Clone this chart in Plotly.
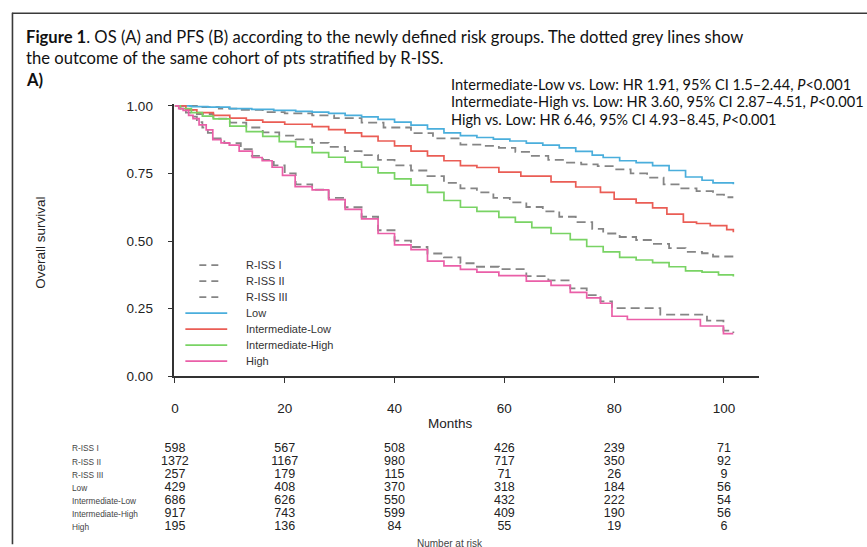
import plotly.graph_objects as go

W, H = 867, 547

# ---------------- data ----------------
series_names = ["R-ISS I", "R-ISS II", "R-ISS III", "Low",
                "Intermediate-Low", "Intermediate-High", "High"]

riss1_months = [0, 4, 8, 12, 16, 20, 25, 29, 34, 38, 43, 47, 52, 56, 59, 62, 65, 68, 71, 74,
                77, 80, 83, 86, 89, 92, 95, 98, 100, 101.7]
riss1_surv = [1.0, 0.995, 0.99, 0.985, 0.977, 0.972, 0.965, 0.955, 0.938, 0.92, 0.899, 0.88,
              0.857, 0.852, 0.845, 0.83, 0.815, 0.8, 0.79, 0.784, 0.777, 0.765, 0.75, 0.735,
              0.71, 0.695, 0.685, 0.672, 0.662, 0.662]

riss2_months = [0, 2, 4, 7, 10, 13, 16, 19, 22, 25, 28, 31, 34, 37, 40, 43, 46, 49, 52, 55,
                58, 61, 64, 67, 70, 73, 76, 78, 81, 84, 87, 90, 93, 96, 98, 101.7]
riss2_surv = [1.0, 0.985, 0.97, 0.953, 0.938, 0.92, 0.902, 0.89, 0.876, 0.863, 0.848, 0.833,
              0.818, 0.8, 0.78, 0.761, 0.74, 0.715, 0.695, 0.68, 0.66, 0.643, 0.626, 0.61,
              0.59, 0.57, 0.545, 0.528, 0.515, 0.504, 0.49, 0.474, 0.46, 0.455, 0.443, 0.437]

riss3_months = [0, 1, 2, 3, 4, 5, 6, 7, 9, 12, 14, 16, 18, 20, 22, 25, 28, 31, 34, 37, 40,
                43, 46, 49, 52, 55, 59, 64, 68, 72, 75, 77.5, 79.6, 88.4, 96.9, 99.9, 101.7]
riss3_surv = [1.0, 0.99, 0.975, 0.96, 0.94, 0.92, 0.9, 0.88, 0.862, 0.84, 0.815, 0.8, 0.78,
              0.75, 0.71, 0.69, 0.66, 0.625, 0.59, 0.54, 0.502, 0.478, 0.454, 0.44, 0.418,
              0.405, 0.396, 0.37, 0.355, 0.325, 0.3, 0.277, 0.252, 0.228, 0.206, 0.169, 0.16]

low_months = [0, 3, 6, 10, 14, 18, 22, 25, 28, 31, 34, 37, 40, 43, 46, 49, 52, 55, 58, 61,
              64, 67, 70, 73, 76, 78, 81, 84, 87, 90, 93, 96, 98, 101.7]
low_surv = [1.0, 0.997, 0.995, 0.99, 0.987, 0.983, 0.98, 0.977, 0.972, 0.965, 0.959, 0.95,
            0.94, 0.929, 0.915, 0.9, 0.89, 0.883, 0.877, 0.87, 0.862, 0.855, 0.845, 0.832,
            0.818, 0.809, 0.797, 0.79, 0.779, 0.761, 0.737, 0.725, 0.715, 0.71]

intlow_months = [0, 2, 4, 7, 10, 13, 16, 20, 25, 28, 31, 34, 37, 40, 43, 46, 49, 52, 55, 59,
                 63, 68.5, 73, 77.5, 80, 84, 87, 89.6, 92.6, 95, 97.5, 100.5, 101.7]
intlow_surv = [1.0, 0.985, 0.975, 0.965, 0.955, 0.947, 0.94, 0.932, 0.923, 0.912, 0.9, 0.887,
               0.87, 0.852, 0.833, 0.815, 0.797, 0.779, 0.772, 0.755, 0.74, 0.719, 0.7, 0.68,
               0.655, 0.641, 0.623, 0.6, 0.57, 0.565, 0.557, 0.542, 0.533]

inthigh_months = [0, 1, 3, 5, 7, 10, 13, 16, 19, 22, 25, 28, 31, 34, 37, 40, 43, 46, 49, 52,
                  55, 59, 62, 65, 68.5, 72, 75, 78, 81, 84, 87, 90, 93, 96, 99, 101.7]
inthigh_surv = [1.0, 0.99, 0.975, 0.962, 0.952, 0.925, 0.905, 0.887, 0.868, 0.848, 0.827,
                0.81, 0.792, 0.773, 0.752, 0.73, 0.707, 0.68, 0.65, 0.625, 0.61, 0.588, 0.57,
                0.55, 0.528, 0.505, 0.48, 0.46, 0.44, 0.43, 0.42, 0.405, 0.39, 0.385, 0.375,
                0.369]

high_months = [0, 0.7, 1.5, 2.5, 3.3, 4.4, 5.7, 6.9, 8.4, 9.9, 11.7, 14.1, 15.9, 17.7, 19.6,
               21.9, 25, 28, 31, 34, 37, 40, 43, 46, 49, 52, 55, 59, 64, 68.5, 72, 75, 77.5,
               79.6, 82.4, 95.7, 99.9, 101.7]
high_surv = [1.0, 0.99, 0.983, 0.965, 0.953, 0.93, 0.911, 0.875, 0.863, 0.855, 0.833, 0.809,
             0.797, 0.773, 0.743, 0.701, 0.689, 0.653, 0.617, 0.582, 0.528, 0.486, 0.468,
             0.426, 0.408, 0.395, 0.385, 0.372, 0.352, 0.336, 0.31, 0.29, 0.27, 0.222, 0.21,
             0.186, 0.158, 0.158]

risk_times = [0, 20, 40, 60, 80, 100]
risk_riss1 = [598, 567, 508, 426, 239, 71]
risk_riss2 = [1372, 1167, 980, 717, 350, 92]
risk_riss3 = [257, 179, 115, 71, 26, 9]
risk_low = [429, 408, 370, 318, 184, 56]
risk_intlow = [686, 626, 550, 432, 222, 54]
risk_inthigh = [917, 743, 599, 409, 190, 56]
risk_high = [195, 136, 84, 55, 19, 6]

y_ticks = [0, 0.25, 0.5, 0.75, 1.0]
y_ticktext = ["0.00", "0.25", "0.50", "0.75", "1.00"]
x_ticks = [0, 20, 40, 60, 80, 100]

hr_lines = [
    "Intermediate-Low vs. Low: HR 1.91, 95% CI 1.5\u20132.44, <i>P</i><0.001",
    "Intermediate-High vs. Low: HR 3.60, 95% CI 2.87\u20134.51, <i>P</i><0.001",
    "High vs. Low: HR 6.46, 95% CI 4.93\u20138.45, <i>P</i><0.001",
]
title_lines = [
    "<b>Figure 1</b>. OS (A) and PFS (B) according to the newly defined risk groups. The dotted grey lines show",
    "the outcome of the same cohort of pts stratified by R-ISS.",
]

# ---------------- styling ----------------
GREY = "#858585"
colors = [GREY, GREY, GREY, "#4aaedc", "#ea5d55", "#79d364", "#ea5fa8"]
dashes = ["9px,5px"] * 3 + ["solid"] * 4

months_all = [riss1_months, riss2_months, riss3_months, low_months,
              intlow_months, inthigh_months, high_months]
surv_all = [riss1_surv, riss2_surv, riss3_surv, low_surv,
            intlow_surv, inthigh_surv, high_surv]
risk_all = [risk_riss1, risk_riss2, risk_riss3, risk_low,
            risk_intlow, risk_inthigh, risk_high]


def px(x):
    return x / W


def py(y):
    return 1 - y / H


# plot geometry in pixels
X0_PIX, PX_PER_MONTH = 172.5, 5.51
X_RANGE = [-0.1, 106.3]
Y0_PIX, PX_PER_UNIT = 380.0, 277.5
Y_RANGE = [0, 1.006]
x_dom = [px(X0_PIX + X_RANGE[0] * PX_PER_MONTH), px(X0_PIX + X_RANGE[1] * PX_PER_MONTH)]
y_dom = [py(Y0_PIX), py(Y0_PIX - Y_RANGE[1] * PX_PER_UNIT)]

# risk table rows (secondary y axis, row index 0 at top)
ROW0_PIX, ROW_DY = 454.0, 13.5
n_rows = len(series_names)
y2_dom = [py(ROW0_PIX + (n_rows - 0.5) * ROW_DY), py(ROW0_PIX - 0.5 * ROW_DY)]

fig = go.Figure()
for name, m, s, c, d in zip(series_names, months_all, surv_all, colors, dashes):
    fig.add_trace(go.Scatter(
        x=m, y=s, name=name, mode="lines",
        line=dict(color=c, width=1.7 if d == "solid" else 1.8, dash=d, shape="hv"),
        showlegend=False, hoverinfo="skip",
    ))

NUM_FONT = "Liberation Sans, Arial, sans-serif"
for i, (name, row) in enumerate(zip(series_names, risk_all)):
    fig.add_trace(go.Scatter(
        x=risk_times, y=[i] * len(risk_times), yaxis="y2", mode="text",
        text=[str(v) for v in row], textposition="middle center",
        textfont=dict(family=NUM_FONT, size=12.5, color="#222"),
        cliponaxis=False, showlegend=False, hoverinfo="skip", name=name,
    ))

AX_FONT = "Liberation Sans, Arial, sans-serif"
TXT_FONT = "Lato, Open Sans, sans-serif"

fig.update_layout(
    width=W, height=H,
    margin=dict(l=0, r=0, t=0, b=0),
    paper_bgcolor="white", plot_bgcolor="white",
    xaxis=dict(domain=x_dom, range=X_RANGE, tickvals=x_ticks, ticks="outside",
               ticklen=5, tickwidth=1.3, tickcolor="#333", showline=True,
               linecolor="#333", linewidth=1.5, showgrid=False, zeroline=False,
               tickfont=dict(family=AX_FONT, size=13.5, color="#222"),
               ticklabelstandoff=14),
    yaxis=dict(domain=y_dom, range=Y_RANGE, tickvals=y_ticks, ticktext=y_ticktext,
               ticks="outside", ticklen=5, tickwidth=1.3, tickcolor="#333",
               showline=True, linecolor="#333", linewidth=1.5, showgrid=False,
               zeroline=False, tickfont=dict(family=AX_FONT, size=13.5, color="#222"),
               ticklabelstandoff=12),
    yaxis2=dict(domain=y2_dom, range=[n_rows - 0.5, -0.5], visible=False,
                anchor="x", showgrid=False, zeroline=False),
    showlegend=False,
)

annotations = []
shapes = []

# outer frame (top and left edges visible)
shapes.append(dict(type="line", xref="paper", yref="paper", x0=px(9), x1=1.01,
                   y0=py(7.5), y1=py(7.5), line=dict(color="#3a3a3a", width=1.6)))
shapes.append(dict(type="line", xref="paper", yref="paper", x0=px(9.5), x1=px(9.5),
                   y0=py(7), y1=-0.01, line=dict(color="#3a3a3a", width=1.6)))

# figure caption
for i, t in enumerate(title_lines):
    annotations.append(dict(text=t, xref="paper", yref="paper", x=px(21), y=py(32 + 21 * i),
                            xanchor="left", yanchor="middle", showarrow=False,
                            font=dict(family=TXT_FONT, size=16.6, color="#111")))
annotations.append(dict(text="<b>A)</b>", xref="paper", yref="paper", x=px(21), y=py(76),
                        xanchor="left", yanchor="middle", showarrow=False,
                        font=dict(family=TXT_FONT, size=16.6, color="#111")))

# hazard ratio text
for i, t in enumerate(hr_lines):
    annotations.append(dict(text=t, xref="paper", yref="paper", x=px(448), y=py(81 + 17.5 * i),
                            xanchor="left", yanchor="middle", showarrow=False,
                            font=dict(family=TXT_FONT, size=14.6, color="#111")))

# axis titles
annotations.append(dict(text="Months", xref="paper", yref="paper", x=px(449), y=py(428),
                        xanchor="center", yanchor="middle", showarrow=False,
                        font=dict(family=AX_FONT, size=13.5, color="#222")))
annotations.append(dict(text="Overall survival", xref="paper", yref="paper", x=px(38), y=py(243),
                        xanchor="center", yanchor="middle", showarrow=False, textangle=-90,
                        font=dict(family=AX_FONT, size=13.5, color="#222")))

# legend (manual, to match compact spacing)
leg_y0, leg_dy = 266.0, 16.4
for i, (name, c, d) in enumerate(zip(series_names, colors, dashes)):
    yy = py(leg_y0 + leg_dy * i)
    if d == "solid":
        x0, x1 = 183, 225
    else:
        x0, x1 = 197, 220
    shapes.append(dict(type="line", xref="paper", yref="paper", x0=px(x0), x1=px(x1),
                       y0=yy, y1=yy, line=dict(color=c, width=1.8,
                                               dash="7px,5px" if d != "solid" else d)))
    annotations.append(dict(text=name, xref="paper", yref="paper", x=px(242), y=yy,
                            xanchor="left", yanchor="middle", showarrow=False,
                            font=dict(family=AX_FONT, size=11, color="#333")))

# number-at-risk row labels
for i, name in enumerate(series_names):
    yy = py(ROW0_PIX + ROW_DY * i)
    annotations.append(dict(text=name, xref="paper", yref="paper", x=px(67), y=yy,
                            xanchor="left", yanchor="middle", showarrow=False,
                            font=dict(family=NUM_FONT, size=8.3, color="#444")))

annotations.append(dict(text="Number at risk", xref="paper", yref="paper", x=px(449), y=py(544),
                        xanchor="center", yanchor="top", showarrow=False,
                        font=dict(family=AX_FONT, size=10, color="#444")))

fig.update_layout(annotations=annotations, shapes=shapes)
fig.write_html("out.html")
